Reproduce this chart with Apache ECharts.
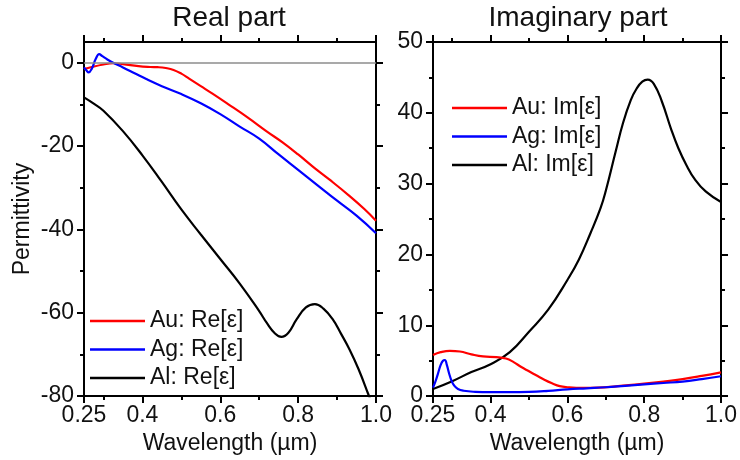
<!DOCTYPE html>
<html>
<head>
<meta charset="utf-8">
<script src="https://cdn.jsdelivr.net/npm/echarts@6/dist/echarts.min.js"></script>
<style>html,body{margin:0;padding:0;background:#fff;}#c{width:740px;height:460px;}</style>
</head>
<body>
<div id="c"></div>
<script>
// ---- data (wavelength in µm, permittivity) ----
const wlAuRe = [0.25,0.27,0.30,0.325,0.35,0.39,0.42,0.44,0.46,0.48,0.50,0.52,0.55,0.58,0.62,0.67,0.72,0.76,0.80,0.84,0.88,0.93,0.97,1.0];
const auRe   = [-1.5,-1.0,-0.4,-0.1,-0.3,-0.8,-1.0,-1.05,-1.25,-1.7,-2.6,-3.8,-5.6,-7.4,-9.9,-13.1,-16.5,-19.1,-22.0,-25.1,-28.0,-31.8,-35.1,-37.9];
const wlAgRe = [0.25,0.256,0.262,0.27,0.28,0.289,0.297,0.31,0.325,0.35,0.38,0.41,0.45,0.50,0.55,0.60,0.65,0.70,0.75,0.80,0.85,0.90,0.95,1.0];
const agRe   = [-1.1,-1.8,-2.3,-1.4,0.9,2.1,1.6,0.8,0.0,-1.1,-2.5,-3.9,-5.6,-7.5,-9.7,-12.3,-15.3,-18.2,-22.0,-25.7,-29.4,-33.1,-36.7,-40.9];
const wlAlRe = [0.25,0.275,0.30,0.35,0.40,0.45,0.50,0.55,0.60,0.65,0.70,0.72,0.74,0.757,0.775,0.796,0.82,0.843,0.865,0.889,0.91,0.932,0.955,0.98,1.0];
const alRe   = [-8.3,-9.8,-11.5,-16.4,-22.2,-28.6,-35.2,-41.2,-47.1,-53.0,-59.6,-62.5,-64.9,-65.8,-64.8,-61.6,-58.7,-57.9,-59.0,-61.6,-65.0,-68.8,-73.5,-79.5,-84.5];

const wlAuIm = [0.25,0.27,0.294,0.32,0.35,0.38,0.415,0.44,0.46,0.48,0.50,0.52,0.54,0.56,0.58,0.60,0.64,0.68,0.72,0.76,0.80,0.85,0.90,0.95,1.0];
const auIm   = [5.8,6.2,6.4,6.3,5.9,5.6,5.5,5.3,4.8,4.1,3.5,2.9,2.3,1.8,1.4,1.25,1.15,1.2,1.35,1.55,1.75,2.05,2.4,2.85,3.35];
const wlAgIm = [0.25,0.256,0.262,0.27,0.276,0.281,0.286,0.292,0.298,0.305,0.315,0.33,0.36,0.40,0.45,0.50,0.55,0.60,0.65,0.70,0.75,0.80,0.85,0.90,0.95,1.0];
const agIm   = [1.2,2.0,3.0,4.4,5.0,5.1,4.4,3.2,2.2,1.5,1.0,0.75,0.6,0.55,0.55,0.6,0.75,0.95,1.1,1.25,1.45,1.65,1.85,2.05,2.4,2.8];
const wlAlIm = [0.25,0.30,0.35,0.40,0.45,0.50,0.55,0.60,0.63,0.66,0.686,0.70,0.725,0.745,0.765,0.78,0.795,0.809,0.825,0.846,0.87,0.889,0.91,0.932,0.96,1.0];
const alIm   = [1.0,2.1,3.4,4.5,6.2,9.1,12.2,16.4,19.3,23.0,26.5,29.0,34.4,38.6,41.8,43.4,44.4,44.7,44.1,41.6,37.7,35.0,32.6,30.6,28.9,27.4];

const xMajor = [0.25,0.4,0.6,0.8,1.0];
const xMinor = [0.3,0.5,0.7,0.9];
const yMajorRe = [-80,-60,-40,-20,0];
const yMinorRe = [-70,-50,-30,-10];
const yMajorIm = [0,10,20,30,40,50];
const yMinorIm = [5,15,25,35,45];
const titles = ['Real part','Imaginary part'];
const xName = 'Wavelength (µm)';
const yName = 'Permittivity';
const namesRe = ['Au: Re[ε]','Ag: Re[ε]','Al: Re[ε]'];
const namesIm = ['Au: Im[ε]','Ag: Im[ε]','Al: Im[ε]'];

// ---- build ----
const FONT = 'Liberation Sans, Arial, sans-serif';
const TXT = '#111';
const FS = 23;
const pairs = (xs, ys) => xs.map((x, i) => [x, ys[i]]);
const lineS = {color:'#000', width:2};

function xAxes(g){
  const base = {gridIndex:g, type:'value', min:0.25, max:1.0, splitLine:{show:false}};
  return [
    Object.assign({}, base, {position:'bottom',
      axisLine:{show:true, onZero:false, lineStyle:lineS},
      axisTick:{show:true, customValues:xMajor, length:7, lineStyle:lineS},
      axisLabel:{show:true, customValues:xMajor, margin:8, fontSize:FS, color:TXT, fontFamily:FONT,
        formatter: v => (Math.abs(v-0.25)<1e-9 ? '0.25' : v.toFixed(1))},
      name:xName, nameLocation:'middle', nameGap:32,
      nameTextStyle:{fontSize:FS, color:TXT, fontFamily:FONT}}),
    Object.assign({}, base, {position:'bottom',
      axisLine:{show:false, onZero:false},
      axisTick:{show:true, customValues:xMinor, length:4, lineStyle:lineS},
      axisLabel:{show:false}}),
    Object.assign({}, base, {position:'top',
      axisLine:{show:true, onZero:false, lineStyle:lineS},
      axisTick:{show:true, customValues:xMajor, length:7, lineStyle:lineS},
      axisLabel:{show:false}}),
    Object.assign({}, base, {position:'top',
      axisLine:{show:false, onZero:false},
      axisTick:{show:true, customValues:xMinor, length:4, lineStyle:lineS},
      axisLabel:{show:false}})
  ];
}
function yAxes(g, min, max, major, minor, withName){
  const base = {gridIndex:g, type:'value', min:min, max:max, splitLine:{show:false}};
  const main = Object.assign({}, base, {position:'left',
      axisLine:{show:true, onZero:false, lineStyle:lineS},
      axisTick:{show:true, customValues:major, length:7, lineStyle:lineS},
      axisLabel:{show:true, customValues:major, margin:10, fontSize:FS, color:TXT, fontFamily:FONT}});
  if (withName) {
    main.name = yName; main.nameLocation = 'middle'; main.nameGap = 50;
    main.nameTextStyle = {fontSize:FS, color:TXT, fontFamily:FONT};
  }
  return [
    main,
    Object.assign({}, base, {position:'left',
      axisLine:{show:false, onZero:false},
      axisTick:{show:true, customValues:minor, length:4, lineStyle:lineS},
      axisLabel:{show:false}}),
    Object.assign({}, base, {position:'right',
      axisLine:{show:true, onZero:false, lineStyle:lineS},
      axisTick:{show:true, customValues:major, length:7, lineStyle:lineS},
      axisLabel:{show:false}}),
    Object.assign({}, base, {position:'right',
      axisLine:{show:false, onZero:false},
      axisTick:{show:true, customValues:minor, length:4, lineStyle:lineS},
      axisLabel:{show:false}})
  ];
}
function ser(name, xs, ys, color, g, extra){
  return Object.assign({
    name:name, type:'line', data:pairs(xs, ys), xAxisIndex:g*4, yAxisIndex:g*4,
    showSymbol:false, symbol:'none', smooth:0.45, clip:true,
    lineStyle:{color:color, width:2.2}, itemStyle:{color:color}, animation:false
  }, extra || {});
}

const legendCommon = {orient:'vertical', padding:0, icon:'rect', itemWidth:55, itemHeight:2.5, itemGap:4.5,
  textStyle:{fontSize:FS, lineHeight:24, color:TXT, fontFamily:FONT}};

const option = {
  animation:false,
  backgroundColor:'#fff',
  grid:[{left:84, right:364, top:42, bottom:63}, {left:433, right:17, top:42, bottom:63}],
  graphic:[
    {type:'text', position:[229, 4], style:{text:titles[0], fontSize:28, fontFamily:FONT, fill:TXT, align:'center', verticalAlign:'top'}},
    {type:'text', position:[578, 4], style:{text:titles[1], fontSize:28, fontFamily:FONT, fill:TXT, align:'center', verticalAlign:'top'}}
  ],
  legend:[
    Object.assign({}, legendCommon, {data:namesRe, left:90, top:309}),
    Object.assign({}, legendCommon, {data:namesIm, left:452, top:96})
  ],
  xAxis:[].concat(xAxes(0), xAxes(1)),
  yAxis:[].concat(yAxes(0, -80, 5, yMajorRe, yMinorRe, true), yAxes(1, 0, 50, yMajorIm, yMinorIm, false)),
  series:[
    ser(namesRe[2], wlAlRe, alRe, '#000000', 0, {
      markLine:{silent:true, symbol:['none','none'], label:{show:false}, animation:false,
        lineStyle:{color:'#8c8c8c', width:1.5, type:'solid'}, data:[{yAxis:0}]}}),
    ser(namesRe[0], wlAuRe, auRe, '#ff0000', 0),
    ser(namesRe[1], wlAgRe, agRe, '#0000ff', 0),
    ser(namesIm[2], wlAlIm, alIm, '#000000', 1),
    ser(namesIm[0], wlAuIm, auIm, '#ff0000', 1),
    ser(namesIm[1], wlAgIm, agIm, '#0000ff', 1)
  ]
};
const chart = echarts.init(document.getElementById('c'), null, {renderer:'canvas'});
chart.setOption(option);
</script>
</body>
</html>
